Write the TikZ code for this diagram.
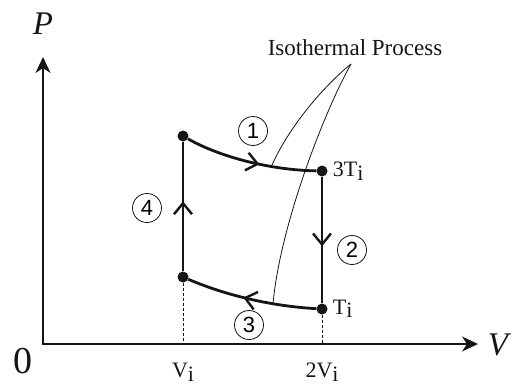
\documentclass[tikz,border=0pt]{standalone}
\usepackage{fontspec}
\setmainfont{Liberation Serif}
\newfontfamily\circfont{Liberation Sans}
\usetikzlibrary{arrows.meta,positioning,decorations.markings}
\definecolor{pen}{HTML}{151515}
\newcommand{\lowsub}[1]{\raisebox{-3.5pt}{#1}}
\tikzset{
  axisline/.style={
    line width=1.9pt, draw=pen, line join=miter,
    {Stealth[length=16pt, width=15pt, inset=5pt]}-{Stealth[length=16pt, width=15pt, inset=5pt]}
  },
  processline/.style={line width=2.8pt, draw=pen},
  isoline/.style={line width=0.8pt, draw=pen},
  dropline/.style={line width=0.8pt, draw=pen, dash pattern=on 3pt off 2pt},
  statedot/.style={circle, fill=pen, inner sep=0pt, minimum size=11pt},
  stepmark/.style={
    circle, draw=pen, line width=0.8pt, inner sep=0pt, minimum size=29pt,
    font=\circfont\fontsize{22}{22}\selectfont
  },
  midarrow/.style={postaction={decorate, decoration={markings,
    mark=at position #1 with {\arrow{Straight Barb[length=11pt, width=18pt, line width=2.4pt]}}}}},
  statelabel/.style={inner sep=0pt, text=pen, font=\fontsize{22}{24}\selectfont},
  notetext/.style={inner sep=0pt, text=pen, font=\fontsize{23}{25}\selectfont},
  axislabel/.style={inner sep=0pt, text=pen, font=\fontsize{33}{35}\selectfont\itshape}
}

\begin{document}
\begin{tikzpicture}[x=1pt, y=-1pt]
  \useasboundingbox (0,0) rectangle (518,385);
  % axes
  \coordinate (o) at (43,344);
  \coordinate (ytip) at (43,57);
  \coordinate (xtip) at (478,344);
  \draw[axisline] (ytip) -- (o) -- (xtip);
  \node[axislabel] (p) at (43,24) {P};
  \node[axislabel] (v) at (498,345) {V};
  \node[statelabel, font=\fontsize{38}{40}\selectfont] (zero) at (23,361) {0};

  % states
  \node[statedot] (s1) at (183,136) {};
  \node[statedot] (s2) at (322,171) {};
  \node[statedot] (s3) at (322,309) {};
  \node[statedot] (s4) at (183,277) {};
  \coordinate (v1) at (183,344);
  \coordinate (v2) at (322,344);
  \draw[dropline] (s4) -- (v1);
  \draw[dropline] (s3) -- (v2);

  % cycle
  \draw[processline, midarrow=0.57] (s1) .. controls (220,157) and (270,170) .. (s2);
  \draw[processline, midarrow=0.55] (s2) -- (s3);
  \draw[processline, midarrow=0.56] (s3) .. controls (270,306) and (225,295) .. (s4);
  \draw[processline, midarrow=0.54] (s4) -- (s1);

  \node[statelabel, right=5pt of s2] (t2) {3T\lowsub{i}};
  \node[statelabel, right=5pt of s3] (t3) {T\lowsub{i}};
  \node[statelabel, below=19pt of v1] (l1) {V\lowsub{i}};
  \node[statelabel, below=19pt of v2] (l2) {2V\lowsub{i}};

  \node[stepmark] (n1) at (253,131) {1};
  \node[stepmark] (n2) at (352,250) {2};
  \node[stepmark] (n3) at (249,325) {3};
  \node[stepmark] (n4) at (147,208) {4};

  % isotherm pointer
  \node[notetext] (iso) at (355,48) {Isothermal Process};
  \coordinate (apex) at (351,64);
  \coordinate (hit1) at (272,165);
  \coordinate (hit3) at (273,304);
  \draw[isoline] (apex) .. controls (325,85) and (290,125) .. (hit1);
  \draw[isoline] (apex) .. controls (325,110) and (280,225) .. (hit3);
\end{tikzpicture}
\end{document}
